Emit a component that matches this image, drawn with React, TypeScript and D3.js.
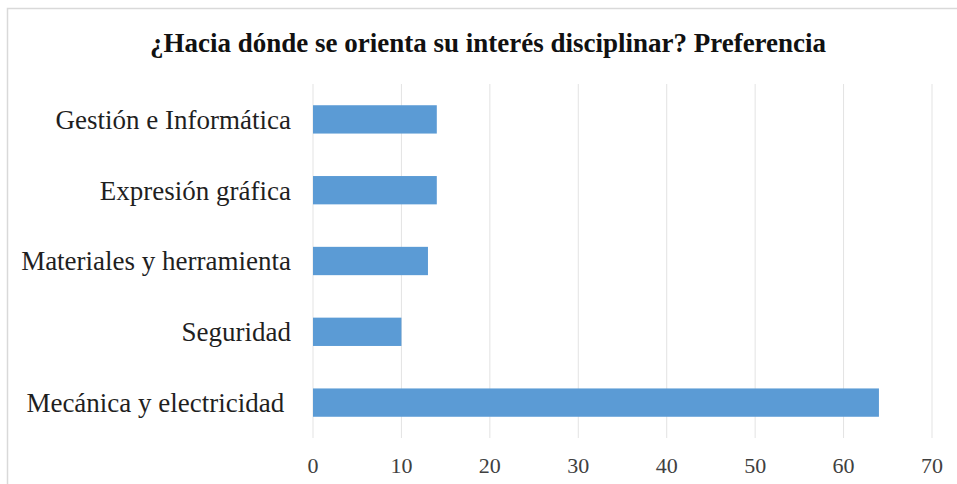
import React, { useEffect, useRef } from 'react';
import * as d3 from 'd3';

// categories top to bottom, as in the picture
const categories = [
  'Gestión e Informática',
  'Expresión gráfica',
  'Materiales y herramienta',
  'Seguridad',
  'Mecánica y electricidad ',
];
const values = [14, 14, 13, 10, 64];
const xTicks = [0, 10, 20, 30, 40, 50, 60, 70];
const title = '¿Hacia dónde se orienta su interés disciplinar? Preferencia';

const App = () => {
  const svgRef = useRef<SVGSVGElement>(null);

  useEffect(() => {
    const svg = d3.select(svgRef.current);
    svg.selectAll('*').remove(); // clear before drawing

    const width = 957;
    const height = 484;
    const margin = { top: 84, right: 25, bottom: 46, left: 313 };
    const font = '"Liberation Serif", "Times New Roman", serif';

    svg.append('rect')
      .attr('width', width)
      .attr('height', height)
      .attr('fill', '#fff');

    // chart frame, cropped on right and bottom
    svg.append('rect')
      .attr('x', 7.5)
      .attr('y', 8.5)
      .attr('width', width + 20)
      .attr('height', height + 20)
      .attr('fill', 'none')
      .attr('stroke', '#d9d9d9')
      .attr('stroke-width', 1.5);

    const x = d3.scaleLinear()
      .domain([0, 70])
      .range([margin.left, 932]);

    const y = d3.scaleBand()
      .domain(categories)
      .range([margin.top, height - margin.bottom])
      .paddingInner(0.6)
      .paddingOuter(0.3);

    // gridlines
    svg.append('g')
      .selectAll('line')
      .data(xTicks)
      .join('line')
      .attr('x1', (d) => x(d))
      .attr('x2', (d) => x(d))
      .attr('y1', margin.top)
      .attr('y2', height - margin.bottom)
      .attr('stroke', '#e3e3e3')
      .attr('stroke-width', 1);

    // bars
    svg.append('g')
      .selectAll('rect')
      .data(categories)
      .join('rect')
      .attr('x', x(0))
      .attr('y', (d) => y(d)!)
      .attr('width', (d, i) => x(values[i]) - x(0))
      .attr('height', y.bandwidth())
      .attr('fill', '#5b9bd5');

    // category labels
    svg.append('g')
      .selectAll('text')
      .data(categories)
      .join('text')
      .attr('x', margin.left - 22)
      .attr('y', (d) => y(d)! + y.bandwidth() / 2)
      .attr('dy', '0.35em')
      .attr('text-anchor', 'end')
      .attr('font-family', font)
      .attr('font-size', 27)
      .attr('fill', '#1f1f1f')
      .style('white-space', 'pre')
      .text((d) => d);

    // x tick labels
    svg.append('g')
      .selectAll('text')
      .data(xTicks)
      .join('text')
      .attr('x', (d) => x(d))
      .attr('y', 465)
      .attr('dy', '0.35em')
      .attr('text-anchor', 'middle')
      .attr('font-family', font)
      .attr('font-size', 22)
      .attr('fill', '#404040')
      .text((d) => d);

    svg.append('text')
      .attr('x', 488)
      .attr('y', 43)
      .attr('dy', '0.35em')
      .attr('text-anchor', 'middle')
      .attr('font-family', font)
      .attr('font-size', 27)
      .attr('font-weight', 'bold')
      .attr('fill', '#111')
      .text(title);
  }, []);

  return (
    <svg
      ref={svgRef}
      width={957}
      height={484}
      style={{ position: 'absolute', left: 0, top: 0 }}
    />
  );
};

export default App;
